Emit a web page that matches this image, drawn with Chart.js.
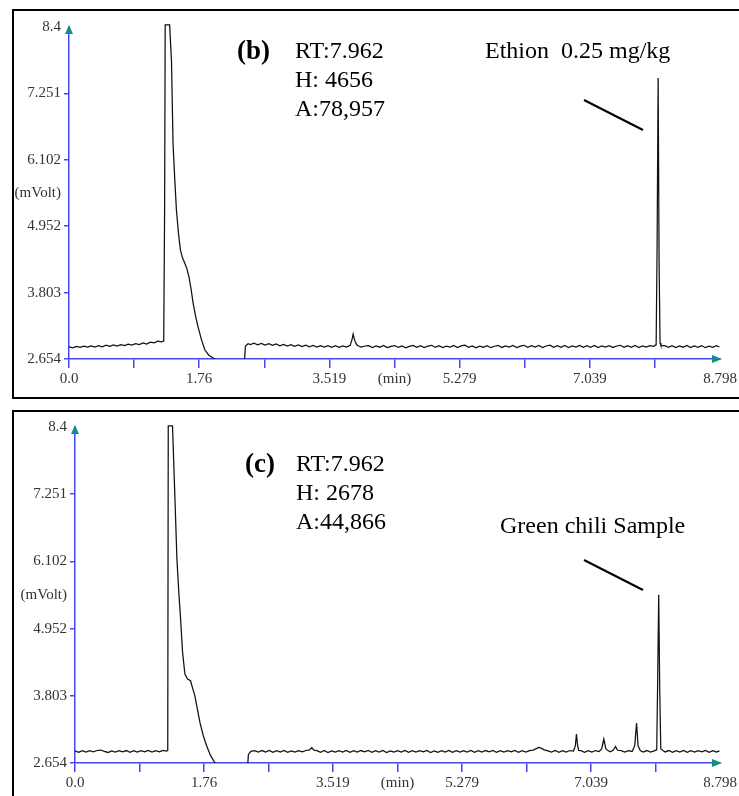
<!DOCTYPE html>
<html>
<head>
<meta charset="utf-8">
<title>Ethion chromatograms</title>
<style>
  body { margin: 0; background: #fff; width: 739px; height: 796px; overflow: hidden; position: relative; }
  .panel { position: absolute; left: 12px; width: 760px; border: 2px solid #000; border-right: none; box-sizing: border-box; }
  #panelB { top: 9px; height: 390px; }
  #panelC { top: 410px; height: 400px; border-bottom: none; }
  canvas { position: absolute; left: 0; }
</style>
<script src="https://cdn.jsdelivr.net/npm/chart.js@4.4.1/dist/chart.umd.min.js"></script>
</head>
<body>
<div class="panel" id="panelB"></div>
<div class="panel" id="panelC"></div>
<canvas id="chartB" width="739" height="400" style="top:0"></canvas>
<canvas id="chartC" width="739" height="396" style="top:400px"></canvas>

<script>
// axis ticks (min / mVolt)
const xTickValues = [0, 0.88, 1.76, 2.639, 3.519, 4.399, 5.279, 6.159, 7.039, 7.918, 8.798];
const xTickLabels = ['0.0', '', '1.76', '', '3.519', '(min)', '5.279', '', '7.039', '', '8.798'];
const yTickValues = [2.654, 3.803, 4.952, 5.527, 6.102, 7.251, 8.4];
const yTickLabels = ['2.654', '3.803', '4.952', '(mVolt)', '6.102', '7.251', '8.4'];

// (b) ethion standard 0.25 mg/kg : [time min, signal mVolt]
const traceB = [
  [0.00, 2.866], [0.05, 2.848], [0.10, 2.871], [0.15, 2.855], [0.20, 2.878], [0.25, 2.859],
  [0.30, 2.881], [0.35, 2.862], [0.40, 2.884], [0.45, 2.866], [0.50, 2.893], [0.55, 2.872],
  [0.60, 2.899], [0.65, 2.879], [0.70, 2.904], [0.75, 2.885], [0.80, 2.911], [0.85, 2.893],
  [0.90, 2.918], [0.95, 2.905], [1.00, 2.931], [1.05, 2.912], [1.10, 2.944], [1.15, 2.935],
  [1.20, 2.962], [1.25, 2.951], [1.28, 2.966],
  // solvent front
  [1.292, 5.2], [1.300, 8.435], [1.360, 8.435], [1.385, 7.814], [1.406, 6.383], [1.43, 5.75],
  [1.452, 5.228], [1.48, 4.82], [1.506, 4.538], [1.535, 4.40], [1.564, 4.314], [1.595, 4.21],
  [1.622, 4.073], [1.65, 3.86], [1.677, 3.625], [1.71, 3.40], [1.744, 3.211], [1.79, 2.99],
  [1.835, 2.814], [1.89, 2.72], [1.943, 2.676], [1.97, 2.656], [2.00, 2.62], [2.10, 2.60],
  [2.30, 2.60], [2.37, 2.60], [2.385, 2.88], [2.42, 2.918],
  [2.45, 2.905], [2.50, 2.928], [2.55, 2.899], [2.60, 2.924], [2.65, 2.896], [2.70, 2.919],
  [2.75, 2.889], [2.80, 2.914], [2.85, 2.884], [2.90, 2.908], [2.95, 2.879], [3.00, 2.903],
  [3.05, 2.874], [3.10, 2.897], [3.15, 2.869], [3.20, 2.894], [3.25, 2.866], [3.30, 2.889],
  [3.35, 2.861], [3.40, 2.886], [3.45, 2.859], [3.50, 2.884], [3.55, 2.857], [3.60, 2.883],
  [3.65, 2.856], [3.70, 2.881], [3.75, 2.862], [3.80, 2.89], [3.825, 2.99], [3.84, 3.085],
  [3.86, 2.98], [3.88, 2.92], [3.90, 2.888], [3.95, 2.861], [4.00, 2.879],
  [4.05, 2.884], [4.10, 2.853], [4.15, 2.879], [4.20, 2.858], [4.25, 2.889], [4.30, 2.851],
  [4.35, 2.874], [4.40, 2.887], [4.45, 2.855], [4.50, 2.881], [4.55, 2.849], [4.60, 2.872],
  [4.65, 2.888], [4.70, 2.856], [4.75, 2.883], [4.80, 2.852], [4.85, 2.876], [4.90, 2.891],
  [4.95, 2.857], [5.00, 2.884], [5.05, 2.850], [5.10, 2.878], [5.15, 2.861], [5.20, 2.889],
  [5.25, 2.853], [5.30, 2.880], [5.35, 2.892], [5.40, 2.856], [5.45, 2.882], [5.50, 2.849],
  [5.55, 2.877], [5.60, 2.858], [5.65, 2.886], [5.70, 2.850], [5.75, 2.875], [5.80, 2.890],
  [5.85, 2.854], [5.90, 2.881], [5.95, 2.859], [6.00, 2.887], [6.05, 2.851], [6.10, 2.878],
  [6.15, 2.891], [6.20, 2.855], [6.25, 2.883], [6.30, 2.860], [6.35, 2.888], [6.40, 2.852],
  [6.45, 2.879], [6.50, 2.892], [6.55, 2.856], [6.60, 2.884], [6.65, 2.858], [6.70, 2.889],
  [6.75, 2.853], [6.80, 2.880], [6.85, 2.861], [6.90, 2.890], [6.95, 2.855], [7.00, 2.883],
  [7.05, 2.857], [7.10, 2.887], [7.15, 2.851], [7.20, 2.881], [7.25, 2.859], [7.30, 2.886],
  [7.35, 2.854], [7.40, 2.879], [7.45, 2.891], [7.50, 2.856], [7.55, 2.884], [7.60, 2.858],
  [7.65, 2.888], [7.70, 2.853], [7.75, 2.881], [7.80, 2.860], [7.85, 2.886], [7.90, 2.872],
  // ethion, RT 7.962, H 4656 uV above baseline
  [7.935, 2.90], [7.948, 4.6], [7.962, 7.516], [7.975, 4.3], [7.988, 2.93], [8.00, 2.885],
  [8.05, 2.884], [8.10, 2.855], [8.15, 2.886], [8.20, 2.852], [8.25, 2.881], [8.30, 2.858],
  [8.35, 2.889], [8.40, 2.851], [8.45, 2.879], [8.50, 2.857], [8.55, 2.885], [8.60, 2.850],
  [8.65, 2.878], [8.70, 2.856], [8.75, 2.883], [8.79, 2.862]
];

// (c) green chili sample
const traceC = [
  [0.00, 2.861], [0.05, 2.838], [0.10, 2.866], [0.15, 2.842], [0.20, 2.864], [0.25, 2.845],
  [0.30, 2.868], [0.35, 2.876], [0.40, 2.852], [0.45, 2.834], [0.50, 2.861], [0.55, 2.839],
  [0.60, 2.865], [0.65, 2.843], [0.70, 2.867], [0.75, 2.837], [0.80, 2.863], [0.85, 2.841],
  [0.90, 2.866], [0.95, 2.844], [1.00, 2.869], [1.05, 2.840], [1.10, 2.865], [1.15, 2.846],
  [1.20, 2.870], [1.25, 2.858], [1.265, 2.87],
  // solvent front
  [1.272, 8.42], [1.33, 8.42], [1.36, 7.30], [1.39, 6.15], [1.417, 5.55],
  [1.44, 5.12], [1.467, 4.55], [1.499, 4.174], [1.535, 4.09], [1.576, 4.06], [1.605, 3.93],
  [1.635, 3.803], [1.67, 3.57], [1.704, 3.347], [1.75, 3.12], [1.795, 2.949], [1.85, 2.78],
  [1.908, 2.659], [1.95, 2.62], [2.10, 2.60], [2.30, 2.60], [2.355, 2.60], [2.365, 2.80],
  [2.40, 2.852],
  [2.45, 2.866], [2.50, 2.839], [2.55, 2.867], [2.60, 2.842], [2.65, 2.869], [2.70, 2.836],
  [2.75, 2.864], [2.80, 2.841], [2.85, 2.868], [2.90, 2.835], [2.95, 2.862], [3.00, 2.840],
  [3.05, 2.866], [3.10, 2.843], [3.15, 2.868], [3.20, 2.879], [3.23, 2.915], [3.26, 2.874],
  [3.30, 2.864], [3.35, 2.838], [3.40, 2.867], [3.45, 2.834], [3.50, 2.862], [3.55, 2.839],
  [3.60, 2.866], [3.65, 2.842], [3.70, 2.868], [3.75, 2.835], [3.80, 2.863], [3.85, 2.840],
  [3.90, 2.867], [3.95, 2.843], [4.00, 2.869], [4.05, 2.836], [4.10, 2.864], [4.15, 2.841],
  [4.20, 2.867], [4.25, 2.833], [4.30, 2.862], [4.35, 2.839], [4.40, 2.865], [4.45, 2.842],
  [4.50, 2.868], [4.55, 2.835], [4.60, 2.863], [4.65, 2.840], [4.70, 2.866], [4.75, 2.843],
  [4.80, 2.869], [4.85, 2.834], [4.90, 2.862], [4.95, 2.838], [5.00, 2.866], [5.05, 2.841],
  [5.10, 2.867], [5.15, 2.835], [5.20, 2.864], [5.25, 2.840], [5.30, 2.866], [5.35, 2.842],
  [5.40, 2.869], [5.45, 2.836], [5.50, 2.863], [5.55, 2.839], [5.60, 2.867], [5.65, 2.843],
  [5.70, 2.868], [5.75, 2.835], [5.80, 2.863], [5.85, 2.840], [5.90, 2.866], [5.95, 2.843],
  [6.00, 2.869], [6.05, 2.837], [6.10, 2.864], [6.15, 2.842], [6.20, 2.866], [6.25, 2.874],
  [6.30, 2.905], [6.325, 2.92], [6.35, 2.912], [6.40, 2.878], [6.45, 2.861], [6.50, 2.840],
  [6.55, 2.868], [6.60, 2.838], [6.65, 2.865], [6.70, 2.841], [6.75, 2.867], [6.80, 2.858],
  [6.825, 2.95], [6.84, 3.149], [6.855, 2.96], [6.87, 2.87], [6.90, 2.864], [6.95, 2.838],
  [7.00, 2.866], [7.05, 2.841], [7.10, 2.867], [7.15, 2.848], [7.185, 2.90], [7.213, 3.064],
  [7.24, 2.90], [7.27, 2.866], [7.30, 2.845], [7.34, 2.87], [7.373, 2.937], [7.40, 2.872],
  [7.45, 2.864], [7.50, 2.839], [7.55, 2.866], [7.60, 2.852], [7.635, 2.95], [7.66, 3.337],
  [7.68, 2.95], [7.71, 2.866], [7.75, 2.842], [7.80, 2.867], [7.85, 2.840], [7.90, 2.862],
  // ethion, RT 7.962, H 2678 uV above baseline
  [7.935, 2.88], [7.948, 4.1], [7.962, 5.530], [7.976, 3.9], [7.99, 2.90], [8.02, 2.866],
  [8.05, 2.843], [8.10, 2.867], [8.15, 2.838], [8.20, 2.865], [8.25, 2.841], [8.30, 2.868],
  [8.35, 2.836], [8.40, 2.863], [8.45, 2.840], [8.50, 2.866], [8.55, 2.843], [8.60, 2.869],
  [8.65, 2.837], [8.70, 2.864], [8.75, 2.841], [8.79, 2.860]
];

const readoutB = ['RT:7.962', 'H: 4656', 'A:78,957'];
const readoutC = ['RT:7.962', 'H: 2678', 'A:44,866'];

const axisBlue = '#4646f5';
const arrowTeal = '#178a84';
const tickText = '#333';
const serif = '"Liberation Serif", "Times New Roman", serif';
const none = 'rgba(0,0,0,0)';

// axis arrow heads, panel tag, peak readout and the leader line
const chromNotes = {
  id: 'notes',
  afterDraw(chart, args, o) {
    const { ctx, chartArea: a } = chart;
    ctx.save();
    ctx.fillStyle = arrowTeal;
    ctx.beginPath();
    ctx.moveTo(a.right + 2, a.bottom);
    ctx.lineTo(a.right - 8, a.bottom - 4);
    ctx.lineTo(a.right - 8, a.bottom + 4);
    ctx.closePath();
    ctx.fill();
    ctx.beginPath();
    ctx.moveTo(a.left, a.top - 2);
    ctx.lineTo(a.left - 4, a.top + 7);
    ctx.lineTo(a.left + 4, a.top + 7);
    ctx.closePath();
    ctx.fill();

    ctx.fillStyle = '#000';
    ctx.textBaseline = 'middle';
    ctx.font = 'bold 27px ' + serif;
    ctx.fillText(o.tag, o.tagX, o.textY);
    ctx.font = '24px ' + serif;
    o.lines.forEach((s, i) => ctx.fillText(s, o.textX, o.textY + i * 28.7));
    ctx.fillText(o.label, o.labelX, o.labelY);

    ctx.strokeStyle = '#000';
    ctx.lineWidth = 2;
    ctx.beginPath();
    ctx.moveTo(o.lead[0], o.lead[1]);
    ctx.lineTo(o.lead[2], o.lead[3]);
    ctx.stroke();
    ctx.restore();
  }
};

function chromOptions(area, notes) {
  return {
    responsive: false,
    animation: false,
    events: [],
    layout: { autoPadding: false, padding: { top: area.top, right: area.right, left: 0, bottom: 0 } },
    plugins: { legend: { display: false }, tooltip: { enabled: false }, notes: notes },
    scales: {
      x: {
        type: 'linear', min: 0, max: 8.798,
        afterFit: s => { s.height = area.xHeight; },
        afterBuildTicks: s => { s.ticks = xTickValues.map(v => ({ value: v })); },
        ticks: {
          autoSkip: false, maxRotation: 0, padding: 2, color: tickText,
          font: { family: serif, size: 15 },
          callback: (v, i) => xTickLabels[i]
        },
        grid: {
          drawOnChartArea: false, tickLength: 9, lineWidth: 1.5, tickWidth: 1.5,
          tickColor: c => (c.index === xTickValues.length - 1 ? none : axisBlue)
        },
        border: { display: true, color: axisBlue, width: 1.5 }
      },
      y: {
        min: 2.654, max: 8.4,
        afterFit: s => { s.width = area.yWidth; },
        afterBuildTicks: s => { s.ticks = yTickValues.map(v => ({ value: v })); },
        ticks: {
          autoSkip: false, padding: 3, color: tickText,
          font: { family: serif, size: 15 },
          callback: (v, i) => yTickLabels[i]
        },
        grid: {
          drawOnChartArea: false, tickLength: 5, lineWidth: 1.5, tickWidth: 1.5,
          tickColor: c => (yTickLabels[c.index] === '(mVolt)' || c.index === yTickValues.length - 1 ? none : axisBlue)
        },
        border: { display: true, color: axisBlue, width: 1.5 }
      }
    }
  };
}

function drawChromatogram(id, trace, area, notes) {
  new Chart(document.getElementById(id), {
    type: 'line',
    data: {
      datasets: [{
        data: trace.map(([t, v]) => ({ x: t, y: v })),
        borderColor: '#111',
        borderWidth: 1.25,
        pointRadius: 0,
        tension: 0,
        clip: { left: 0, top: 6, right: 0, bottom: 0 }
      }]
    },
    options: chromOptions(area, notes),
    plugins: [chromNotes]
  });
}

drawChromatogram('chartB', traceB,
  { top: 27, right: 19, yWidth: 69, xHeight: 41 },
  { tag: '(b)', tagX: 237, textX: 295, textY: 52, lines: readoutB,
    label: 'Ethion  0.25 mg/kg', labelX: 485, labelY: 52, lead: [584, 100, 643, 130] });

drawChromatogram('chartC', traceC,
  { top: 27, right: 19, yWidth: 75, xHeight: 33 },
  { tag: '(c)', tagX: 245, textX: 296, textY: 65, lines: readoutC,
    label: 'Green chili Sample', labelX: 500, labelY: 127, lead: [584, 160, 643, 190] });
</script>
</body>
</html>
